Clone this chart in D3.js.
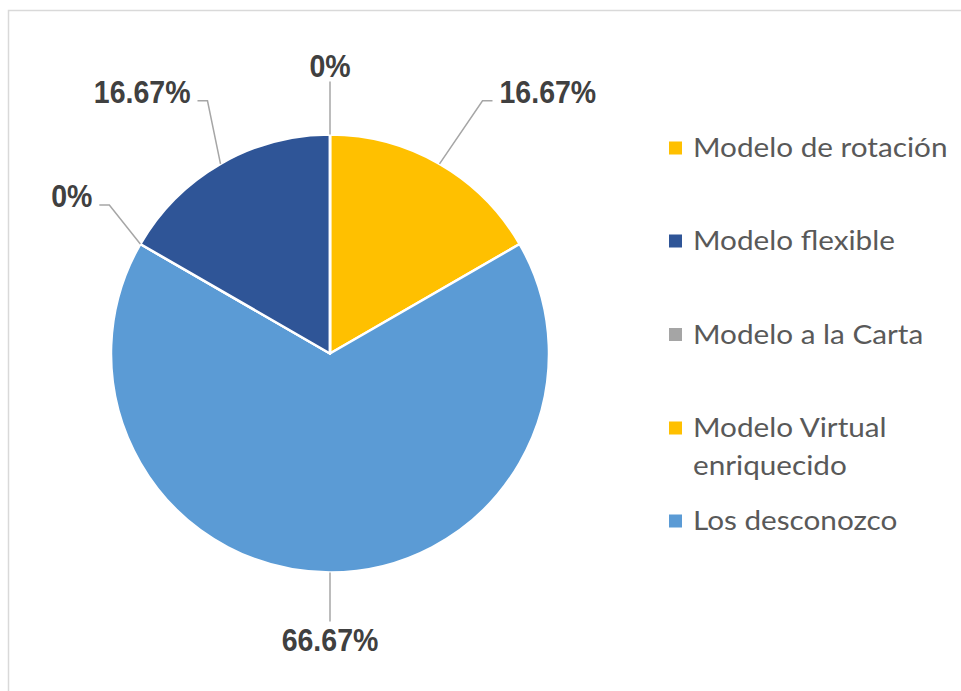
<!DOCTYPE html>
<html>
<head>
<meta charset="utf-8">
<script src="https://cdn.jsdelivr.net/npm/d3@7"></script>
<style>
  html, body { margin: 0; padding: 0; background: #ffffff; }
  svg { display: block; }
</style>
</head>
<body>
<div id="chart"></div>
<script>
// ---- data ----
const categories = ["Modelo de rotación", "Modelo flexible", "Modelo a la Carta", "Modelo Virtual enriquecido", "Los desconozco"];
const values = [16.67, 16.67, 0, 0, 66.67];
const colors = ["#FFC000", "#2F5597", "#A5A5A5", "#FFC000", "#5B9BD5"];
// clockwise drawing order of slices starting at 12 o'clock
const sliceOrder = [0, 4, 2, 1, 3];
// legend line breaks
const legendLines = [["Modelo de rotación"], ["Modelo flexible"], ["Modelo a la Carta"], ["Modelo Virtual", "enriquecido"], ["Los desconozco"]];

// ---- layout ----
const W = 961, H = 691;
const cx = 330, cy = 353.5, R = 219;
// leader elbow offsets relative to the slice edge point (in drawing order)
const leaderElbow = [[43, -63], [0, 49], [-31, -39], [-13, -63], [0, -53]];

const svg = d3.select("#chart").append("svg").attr("width", W).attr("height", H);

// chart frame
svg.append("path")
  .attr("d", `M8.5,${H + 5} L8.5,10.5 L${W + 5},10.5`)
  .attr("fill", "none").attr("stroke", "#d9d9d9").attr("stroke-width", 1.5);

const ordered = sliceOrder.map(i => ({ idx: i, name: categories[i], value: values[i], color: colors[i] }));
const pie = d3.pie().value(d => d.value).sort(null);
const arcs = pie(ordered);
const arc = d3.arc().innerRadius(0).outerRadius(R);
const edge = d3.arc().innerRadius(R).outerRadius(R);

const g = svg.append("g").attr("transform", `translate(${cx},${cy})`);
g.selectAll("path.slice").data(arcs).join("path")
  .attr("class", "slice")
  .attr("d", arc)
  .attr("fill", d => d.data.color)
  .attr("stroke", "#ffffff")
  .attr("stroke-width", 2.5)
  .attr("stroke-linejoin", "round");

// labels with leaders
const fmt = v => (v === 0 ? "0" : d3.format(".2f")(v)) + "%";
arcs.forEach((d, i) => {
  const [sx, sy] = edge.centroid(d);
  const [ex, ey] = [sx + leaderElbow[i][0], sy + leaderElbow[i][1]];
  const lbl = g.append("g");
  const vertical = leaderElbow[i][0] === 0;
  let pts, tx, ty, anchor;
  if (vertical) {
    pts = [[sx, sy], [ex, ey]];
    tx = ex; anchor = "middle";
    ty = ey < sy ? ey - 5 : ey + 29;
  } else {
    const dir = ex >= sx ? 1 : -1;
    pts = [[sx, sy], [ex, ey], [ex + dir * 10, ey]];
    tx = ex + dir * 17; anchor = dir > 0 ? "start" : "end";
    ty = ey + 2;
  }
  lbl.append("path")
    .attr("d", d3.line()(pts))
    .attr("fill", "none").attr("stroke", "#a6a6a6").attr("stroke-width", 1.5);
  lbl.append("text")
    .attr("transform", `translate(${tx},${ty}) scale(0.92,1)`)
    .attr("text-anchor", anchor)
    .attr("font-family", "Liberation Sans, Arial, sans-serif")
    .attr("font-weight", "bold")
    .attr("font-size", 31)
    .attr("fill", "#404040")
    .text(fmt(d.data.value));
});

// legend
const legendX = 669, legendRowY = [148, 241, 334.5, 428, 521];
const lg = svg.append("g");
categories.forEach((c, i) => {
  lg.append("rect")
    .attr("x", legendX).attr("y", legendRowY[i] - 6.5)
    .attr("width", 13).attr("height", 13)
    .attr("fill", colors[i]);
  const t = lg.append("text")
    .attr("transform", `translate(${legendX + 24},${legendRowY[i] + 9}) scale(1.1,1)`)
    .attr("font-family", "Lato, sans-serif")
    .attr("font-size", 27)
    .attr("fill", "#595959");
  legendLines[i].forEach((line, k) => {
    t.append("tspan").attr("x", 0).attr("dy", k === 0 ? 0 : 38).text(line);
  });
});
</script>
</body>
</html>
